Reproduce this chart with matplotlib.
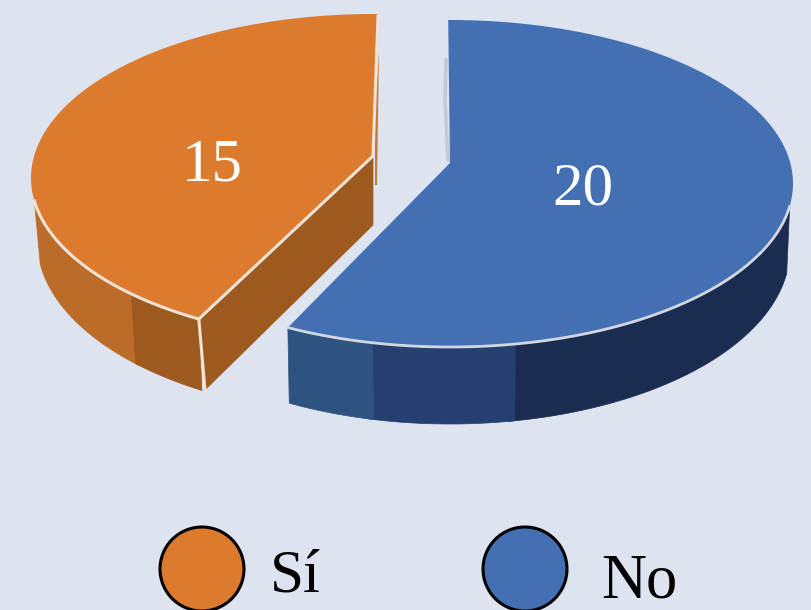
import numpy as np
import matplotlib
matplotlib.use("Agg")
import matplotlib.pyplot as plt
from matplotlib.patches import Polygon, Ellipse

categories = ["Sí", "No"]
values = [15, 20]
top_colors = ["#DC7A2E", "#436FB3"]
bg = "#DDE3EF"
SERIF = "Liberation Serif"

fig = plt.figure(figsize=(8.11, 6.10), dpi=100, facecolor=bg)
ax = fig.add_axes([0, 0, 1, 1])
ax.set_xlim(0, 811); ax.set_ylim(610, 0); ax.axis("off")

total = sum(values)
sweep_no = values[1] / total * 360   # "No" runs clockwise from 12 o'clock


def arc(e, t0, t1, n=120):
    """Points on an ellipse e=(cx,cy,a,b); angle clockwise from the top."""
    t = np.radians(np.linspace(t0, t1, n))
    return np.column_stack([e[0] + e[2] * np.sin(t), e[1] - e[3] * np.cos(t)])


def wall(top, bot, t0, t1, color):
    pts = np.vstack([arc(top, t0, t1), arc(bot, t1, t0)])
    ax.add_patch(Polygon(pts, closed=True, fc=color, ec=color, lw=0.5, zorder=2))


# --- No (blue) ---
no_top, no_bot = (450, 183.5, 343, 163.5), (450, 249, 340, 175)
no_apex = (450, 163)
no_start, no_end = -0.3, sweep_no + 2.5
wall(no_top, no_bot, 98, 170, "#1A2C4F")
wall(no_top, no_bot, 169, 194, "#243F70")
wall(no_top, no_bot, 193, no_end, "#2F5380")
ax.plot([446, 445, 448], [60, 100, 160], color="#C3C9D3", lw=2.5, zorder=2.5)
pts = np.vstack([arc(no_top, no_start, no_end), [no_apex]])
ax.add_patch(Polygon(pts, closed=True, fc=top_colors[1], ec="none", zorder=3))
e = arc(no_top, 98, no_end)
ax.plot(e[:, 0], e[:, 1], color="#D3D8E0", lw=2, zorder=4, solid_capstyle="round")

# --- Sí (orange) ---
si_top, si_bot = (374, 178, 343, 164), (374, 240, 337, 175)
si_apex = (373, 156)
si_start, si_end = sweep_no + 5, 360.7
wall(si_top, si_bot, 224, 262, "#BC6C28")
wall(si_top, si_bot, si_start, 225, "#9D5A1F")
a0 = arc(si_top, si_start, si_start, 1)[0]
ax.add_patch(Polygon([a0, si_apex, (373, 225), (205, 390)],
                     closed=True, fc="#9D5A1F", ec="#9D5A1F", lw=0.5, zorder=2))
ax.add_patch(Polygon([(379, 50), (377, 185), (375, 185), (375, 110)],
                     closed=True, fc="#C07A3C", ec="none", zorder=2))
pts = np.vstack([arc(si_top, si_start, si_end), [si_apex]])
ax.add_patch(Polygon(pts, closed=True, fc=top_colors[0], ec="none", zorder=3))
edge = "#EFE2D6"
e = arc(si_top, 262, si_start)
ax.plot(e[:, 0], e[:, 1], color=edge, lw=2.2, zorder=4)
ax.plot([a0[0], si_apex[0], 378], [a0[1], si_apex[1], 16], color=edge, lw=2.2, zorder=4)
ax.plot([a0[0], 205], [a0[1], 390], color=edge, lw=2.2, zorder=4)

# --- value labels ---
ax.text(212, 166, str(values[0]), family=SERIF, fontsize=44, color="white",
        ha="center", va="center", zorder=5)
ax.text(583, 190, str(values[1]), family=SERIF, fontsize=44, color="white",
        ha="center", va="center", zorder=5)

# --- legend ---
for cx, col in zip((202, 525), top_colors):
    ax.add_patch(Ellipse((cx, 569), 84, 84, fc=col, ec="black", lw=2.2, zorder=3))
ax.text(270, 577, categories[0], family=SERIF, fontsize=44, color="black",
        ha="left", va="center")
ax.text(601, 582, categories[1], family=SERIF, fontsize=45, color="black",
        ha="left", va="center")

fig.savefig("out.png", dpi=100, facecolor=bg)
